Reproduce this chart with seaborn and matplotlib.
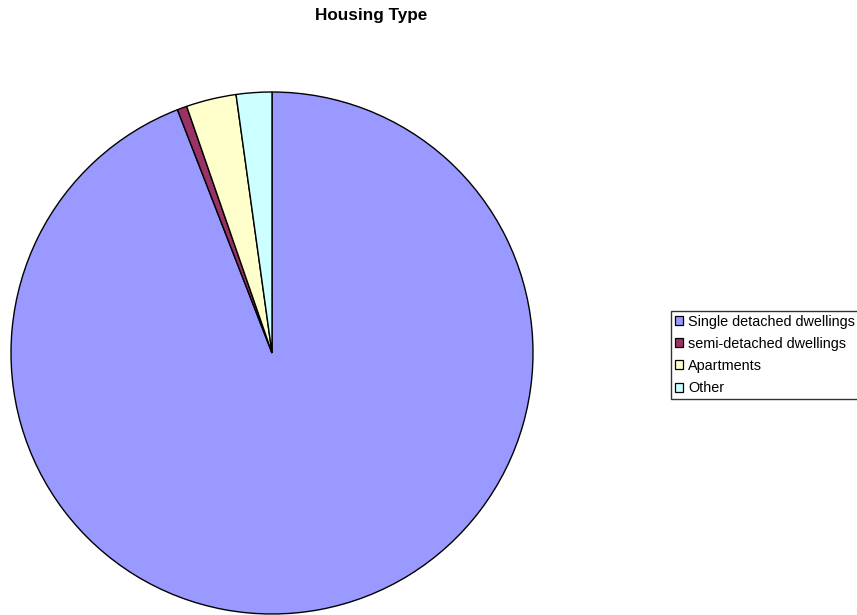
import matplotlib
matplotlib.use("Agg")
import matplotlib.pyplot as plt
import seaborn as sns
from matplotlib.patches import Patch

categories = ["Single detached dwellings", "semi-detached dwellings", "Apartments", "Other"]
values = [94.1, 0.6, 3.1, 2.2]
colors = ["#9999FF", "#993366", "#FFFFCC", "#CCFFFF"]

sns.set_theme(style="white")
plt.rcParams['font.family'] = ['Liberation Sans', 'DejaVu Sans']

W, H = 857, 615
fig = plt.figure(figsize=(W / 100, H / 100), dpi=100)
cx, cy, r = 272, 353, 261
ax = fig.add_axes([(cx - r) / W, (H - cy - r) / H, 2 * r / W, 2 * r / H])
ax.pie(values, colors=colors, startangle=90, counterclock=False,
       wedgeprops=dict(edgecolor="black", linewidth=1))
ax.set_xlim(-1, 1)
ax.set_ylim(-1, 1)
ax.set_axis_off()

fig.text(371.5 / W, 1 - 15.5 / H, "Housing Type", ha="center", va="center",
         fontsize=12.3, fontweight="bold", color="black")

handles = [Patch(facecolor=c, edgecolor="black", linewidth=0.9) for c in colors]
leg = fig.legend(handles, categories, loc="upper left",
                 bbox_to_anchor=(671 / W, 1 - 311 / H), fontsize=10.4,
                 frameon=True, fancybox=False, borderpad=0.25,
                 handlelength=0.58, handleheight=0.58, handletextpad=0.35,
                 labelspacing=0.57, borderaxespad=0)
leg.get_frame().set_edgecolor("black")
leg.get_frame().set_linewidth(1)
for t in leg.get_texts():
    t.set_color("black")

fig.savefig("out.png", dpi=100)
